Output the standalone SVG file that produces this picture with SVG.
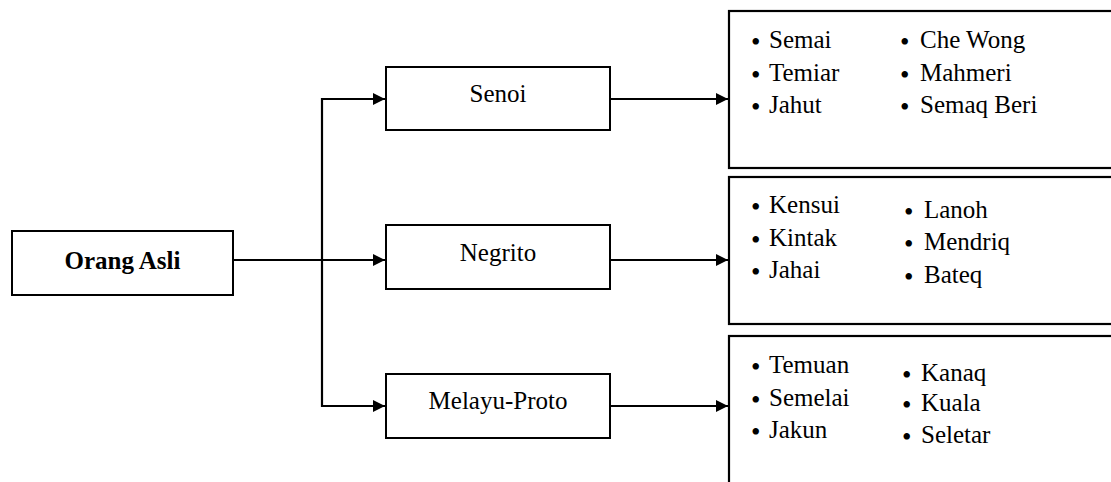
<svg xmlns="http://www.w3.org/2000/svg" width="1111" height="482" viewBox="0 0 1111 482">
<defs>
<style>
.box{fill:#fff;stroke:#000;stroke-width:2}
.lst{fill:#fff;stroke:#000;stroke-width:2.2}
.lbl{font-family:'Liberation Serif','DejaVu Serif',serif;font-size:25px;fill:#000;text-anchor:middle}
.b{font-weight:bold}
.it{font-family:'Liberation Serif','DejaVu Serif',serif;font-size:25px;fill:#000}
.bul{font-size:27px}
.con{fill:none;stroke:#000;stroke-width:2.2}
</style>
<marker id="arr" viewBox="0 0 10 10" refX="10" refY="5" markerWidth="15" markerHeight="12" markerUnits="userSpaceOnUse" orient="auto">
<path d="M0,0 L10,5 L0,10 z" fill="#000"/>
</marker>
</defs>
<rect width="1111" height="482" fill="#fff"/>
<g id="connectors">
<line class="con" x1="233" y1="260" x2="385" y2="260" marker-end="url(#arr)"/>
<polyline class="con" points="385,99 322,99 322,406 385,406" marker-end="url(#arr)"/>
<path class="con" d="M322,99 L385,99" marker-end="url(#arr)"/>
<line class="con" x1="610" y1="99" x2="728" y2="99" marker-end="url(#arr)"/>
<line class="con" x1="610" y1="260" x2="728" y2="260" marker-end="url(#arr)"/>
<line class="con" x1="610" y1="406" x2="728" y2="406" marker-end="url(#arr)"/>
</g>
<g id="orang-asli">
<rect class="box" x="12" y="231" width="221" height="64"/>
<text class="lbl b" x="122.5" y="269">Orang Asli</text>
</g>
<g id="senoi">
<rect class="box" x="386" y="67" width="224" height="63"/>
<text class="lbl" x="498" y="102">Senoi</text>
</g>
<g id="negrito">
<rect class="box" x="386" y="225" width="224" height="64"/>
<text class="lbl" x="498" y="261">Negrito</text>
</g>
<g id="melayu-proto">
<rect class="box" x="386" y="374" width="224" height="64"/>
<text class="lbl" x="498" y="409">Melayu-Proto</text>
</g>
<g id="senoi-list">
<rect class="lst" x="729" y="11" width="400" height="157"/>
<text class="it" y="48"><tspan class="bul" x="751" dy="3">•</tspan><tspan x="769" dy="-3">Semai</tspan></text>
<text class="it" y="81"><tspan class="bul" x="751" dy="3">•</tspan><tspan x="769" dy="-3">Temiar</tspan></text>
<text class="it" y="113"><tspan class="bul" x="751" dy="3">•</tspan><tspan x="769" dy="-3">Jahut</tspan></text>
<text class="it" y="48"><tspan class="bul" x="900" dy="3">•</tspan><tspan x="920" dy="-3">Che Wong</tspan></text>
<text class="it" y="81"><tspan class="bul" x="900" dy="3">•</tspan><tspan x="920" dy="-3">Mahmeri</tspan></text>
<text class="it" y="113"><tspan class="bul" x="900" dy="3">•</tspan><tspan x="920" dy="-3">Semaq Beri</tspan></text>
</g>
<g id="negrito-list">
<rect class="lst" x="729" y="177" width="400" height="147"/>
<text class="it" y="213"><tspan class="bul" x="751" dy="3">•</tspan><tspan x="769" dy="-3">Kensui</tspan></text>
<text class="it" y="246"><tspan class="bul" x="751" dy="3">•</tspan><tspan x="769" dy="-3">Kintak</tspan></text>
<text class="it" y="278"><tspan class="bul" x="751" dy="3">•</tspan><tspan x="769" dy="-3">Jahai</tspan></text>
<text class="it" y="218"><tspan class="bul" x="904" dy="3">•</tspan><tspan x="924" dy="-3">Lanoh</tspan></text>
<text class="it" y="250"><tspan class="bul" x="904" dy="3">•</tspan><tspan x="924" dy="-3">Mendriq</tspan></text>
<text class="it" y="283"><tspan class="bul" x="904" dy="3">•</tspan><tspan x="924" dy="-3">Bateq</tspan></text>
</g>
<g id="melayu-proto-list">
<rect class="lst" x="729" y="336" width="400" height="160"/>
<text class="it" y="373"><tspan class="bul" x="751" dy="3">•</tspan><tspan x="769" dy="-3">Temuan</tspan></text>
<text class="it" y="406"><tspan class="bul" x="751" dy="3">•</tspan><tspan x="769" dy="-3">Semelai</tspan></text>
<text class="it" y="438"><tspan class="bul" x="751" dy="3">•</tspan><tspan x="769" dy="-3">Jakun</tspan></text>
<text class="it" y="381"><tspan class="bul" x="902" dy="3">•</tspan><tspan x="921" dy="-3">Kanaq</tspan></text>
<text class="it" y="411"><tspan class="bul" x="902" dy="3">•</tspan><tspan x="921" dy="-3">Kuala</tspan></text>
<text class="it" y="443"><tspan class="bul" x="902" dy="3">•</tspan><tspan x="921" dy="-3">Seletar</tspan></text>
</g>
</svg>
